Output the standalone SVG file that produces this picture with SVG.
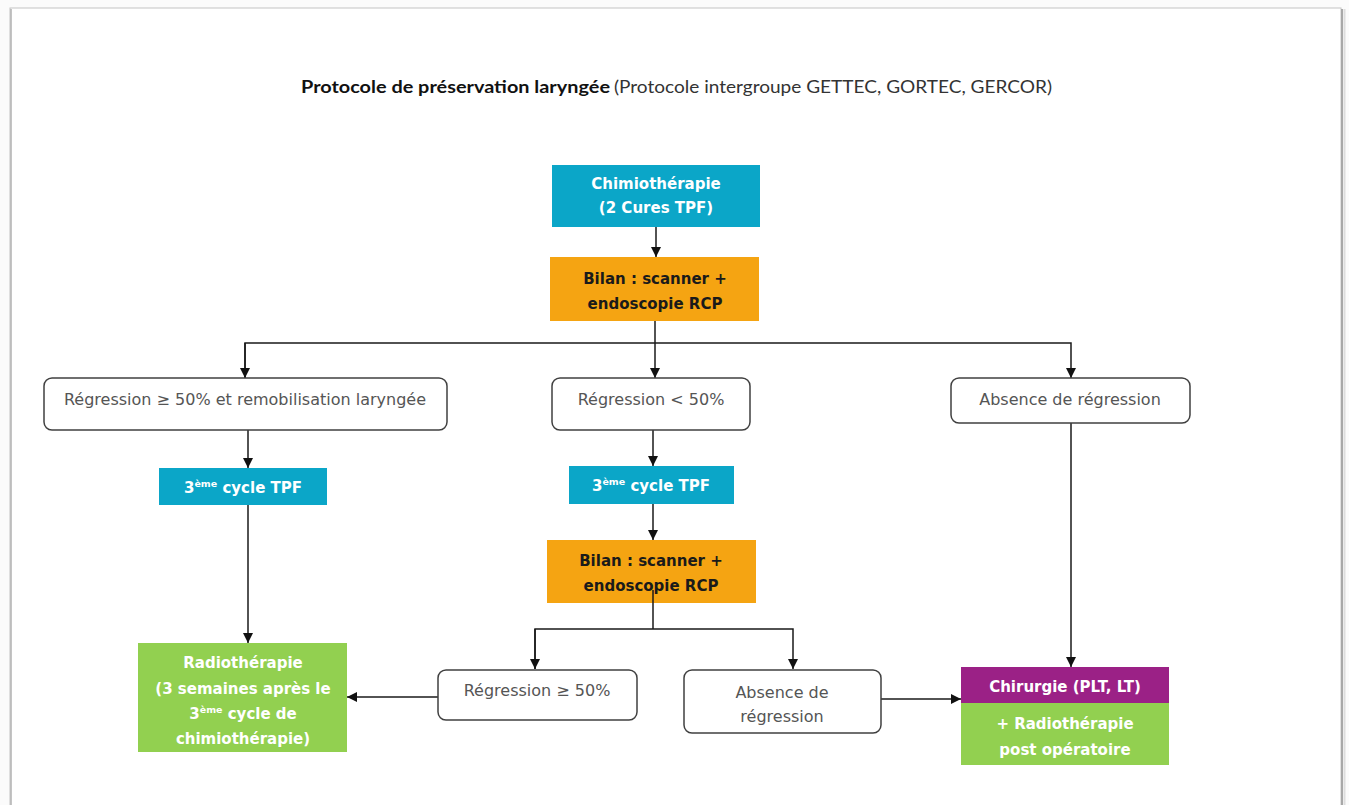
<svg xmlns="http://www.w3.org/2000/svg" width="1349" height="805" viewBox="0 0 1349 805">
<style>
.b{font-family:"DejaVu Sans","Open Sans",sans-serif;font-weight:bold;font-size:15px;text-anchor:middle}
.w{fill:#ffffff}
.d{fill:#1a1a1a}
.r{font-family:"DejaVu Sans","Open Sans",sans-serif;font-size:16px;fill:#555555;text-anchor:middle}
.box{fill:#ffffff;stroke:#404040;stroke-width:1.5}
.c{stroke:#1a1a1a;stroke-width:1.5;fill:none}
</style>
<defs>
<marker id="ah" markerWidth="10" markerHeight="10" refX="10" refY="5" orient="auto" markerUnits="userSpaceOnUse">
<path d="M0,0 L10,5 L0,10 Z" fill="#111"/>
</marker>
</defs>
<rect x="0" y="0" width="1349" height="805" fill="#fbfbfb"/>
<rect x="10" y="8" width="1331" height="810" fill="#ffffff" stroke="#c4c4c4" stroke-width="1"/>
<line x1="1342" y1="9" x2="1342" y2="805" stroke="#a8a8a8" stroke-width="2"/>
<line x1="1344.5" y1="9" x2="1344.5" y2="805" stroke="#dddddd" stroke-width="2"/>
<line x1="11" y1="9" x2="11" y2="805" stroke="#b0b0b0" stroke-width="1.5"/>

<g id="title">
<text x="301" y="93" font-family="Lato,'Open Sans',sans-serif" font-size="16.5" font-weight="bold" fill="#111" textLength="309" lengthAdjust="spacingAndGlyphs">Protocole de préservation laryngée</text>
<text x="614" y="93" font-family="Lato,'Open Sans',sans-serif" font-size="16.5" fill="#333" textLength="438" lengthAdjust="spacingAndGlyphs">(Protocole intergroupe GETTEC, GORTEC, GERCOR)</text>
</g>

<g id="connectors">
<line class="c" x1="656" y1="227" x2="656" y2="257" marker-end="url(#ah)"/>
<polyline class="c" points="655,321 655,378" marker-end="url(#ah)"/>
<polyline class="c" points="245,378 245,343 1071,343 1071,378" marker-end="url(#ah)"/>
<line class="c" x1="245" y1="343" x2="245" y2="378" marker-end="url(#ah)"/>
<line class="c" x1="248" y1="430" x2="248" y2="468" marker-end="url(#ah)"/>
<line class="c" x1="248" y1="505" x2="248" y2="643" marker-end="url(#ah)"/>
<line class="c" x1="653" y1="430" x2="653" y2="466" marker-end="url(#ah)"/>
<line class="c" x1="653" y1="504" x2="653" y2="540" marker-end="url(#ah)"/>
<line class="c" x1="1071" y1="423" x2="1071" y2="667" marker-end="url(#ah)"/>
<line class="c" x1="438" y1="697" x2="347" y2="697" marker-end="url(#ah)"/>
<line class="c" x1="881" y1="699" x2="961" y2="699" marker-end="url(#ah)"/>
</g>

<g id="chimio">
<rect x="552" y="165" width="208" height="62" fill="#0ba6c8"/>
<text class="b w" x="656" y="189">Chimiothérapie</text>
<text class="b w" x="656" y="213">(2 Cures TPF)</text>
</g>

<g id="bilan1">
<rect x="550" y="257" width="209" height="64" fill="#f5a412"/>
<text class="b d" x="655" y="284">Bilan : scanner +</text>
<text class="b d" x="655" y="309">endoscopie RCP</text>
</g>

<g id="reg50remob">
<rect class="box" x="44" y="378" width="403" height="52" rx="8"/>
<text class="r" x="245" y="405">Régression ≥ 50% et remobilisation laryngée</text>
</g>

<g id="reglt50">
<rect class="box" x="552" y="378" width="198" height="52" rx="8"/>
<text class="r" x="651" y="405">Régression &lt; 50%</text>
</g>

<g id="absence1">
<rect class="box" x="951" y="378" width="239" height="45" rx="8"/>
<text class="r" x="1070" y="405">Absence de régression</text>
</g>

<g id="cycle1">
<rect x="159" y="468" width="168" height="37" fill="#0ba6c8"/>
<text class="b w" x="243" y="493">3<tspan font-size="9.5" dy="-6">ème</tspan><tspan dy="6"> cycle TPF</tspan></text>
</g>

<g id="cycle2">
<rect x="569" y="466" width="165" height="38" fill="#0ba6c8"/>
<text class="b w" x="651" y="491">3<tspan font-size="9.5" dy="-6">ème</tspan><tspan dy="6"> cycle TPF</tspan></text>
</g>

<g id="bilan2">
<rect x="547" y="540" width="209" height="63" fill="#f5a412"/>
<text class="b d" x="651" y="566">Bilan : scanner +</text>
<text class="b d" x="651" y="591">endoscopie RCP</text>
</g>

<g id="connectors2">
<line class="c" x1="653" y1="590" x2="653" y2="629"/>
<polyline class="c" points="535,669 535,629 793,629 793,669" marker-end="url(#ah)"/>
<line class="c" x1="535" y1="629" x2="535" y2="669" marker-end="url(#ah)"/>
</g>

<g id="radio">
<rect x="138" y="643" width="209" height="109" fill="#92d050"/>
<text class="b w" x="243" y="668">Radiothérapie</text>
<text class="b w" x="243" y="694">(3 semaines après le</text>
<text class="b w" x="243" y="719">3<tspan font-size="9.5" dy="-6">ème</tspan><tspan dy="6"> cycle de</tspan></text>
<text class="b w" x="243" y="744">chimiothérapie)</text>
</g>

<g id="reg50">
<rect class="box" x="438" y="670" width="199" height="50" rx="8"/>
<text class="r" x="537" y="696">Régression ≥ 50%</text>
</g>

<g id="absence2">
<rect class="box" x="684" y="670" width="197" height="63" rx="8"/>
<text class="r" x="782" y="698">Absence de</text>
<text class="r" x="782" y="722">régression</text>
</g>

<g id="chirurgie">
<rect x="961" y="667" width="208" height="36" fill="#9b2186"/>
<rect x="961" y="703" width="208" height="62" fill="#92d050"/>
<text class="b w" x="1065" y="692">Chirurgie (PLT, LT)</text>
<text class="b w" x="1065" y="729">+ Radiothérapie</text>
<text class="b w" x="1065" y="755">post opératoire</text>
</g>
</svg>
